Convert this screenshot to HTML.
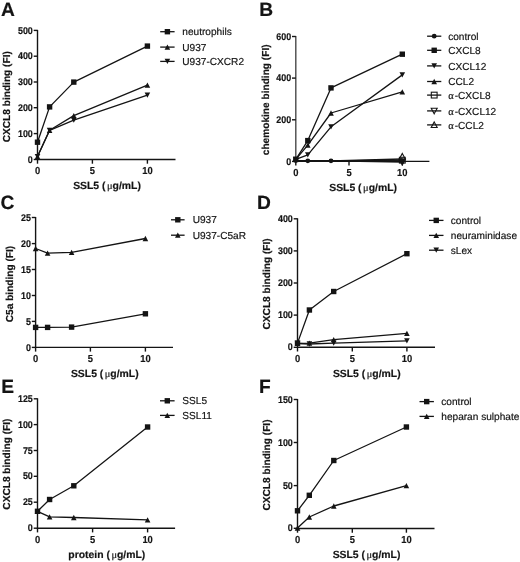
<!DOCTYPE html>
<html><head><meta charset="utf-8"><title>figure</title>
<style>
html,body{margin:0;padding:0;background:#fff;}
body{width:520px;height:562px;overflow:hidden;}
svg{display:block;will-change:transform;}
text{text-rendering:geometricPrecision;font-family:"Liberation Sans",sans-serif;fill:#141414;stroke:#141414;stroke-width:0.18px;}
</style></head><body>
<svg width="520" height="562" viewBox="0 0 520 562">
<rect width="520" height="562" fill="#fff"/>
<text x="1" y="15.6" font-size="19.2" font-weight="bold" text-anchor="start">A</text>
<line x1="37.5" y1="29.9" x2="37.5" y2="160.1" stroke="#141414" stroke-width="1.4"/>
<line x1="33.7" y1="30.4" x2="37.5" y2="30.4" stroke="#141414" stroke-width="1.4"/>
<text x="0" y="0" font-size="9.7" font-weight="bold" text-anchor="end" transform="translate(32.8,33.55) scale(0.92,1)">500</text>
<line x1="33.7" y1="56.2" x2="37.5" y2="56.2" stroke="#141414" stroke-width="1.4"/>
<text x="0" y="0" font-size="9.7" font-weight="bold" text-anchor="end" transform="translate(32.8,59.35) scale(0.92,1)">400</text>
<line x1="33.7" y1="82" x2="37.5" y2="82" stroke="#141414" stroke-width="1.4"/>
<text x="0" y="0" font-size="9.7" font-weight="bold" text-anchor="end" transform="translate(32.8,85.15) scale(0.92,1)">300</text>
<line x1="33.7" y1="107.7" x2="37.5" y2="107.7" stroke="#141414" stroke-width="1.4"/>
<text x="0" y="0" font-size="9.7" font-weight="bold" text-anchor="end" transform="translate(32.8,110.85) scale(0.92,1)">200</text>
<line x1="33.7" y1="133.6" x2="37.5" y2="133.6" stroke="#141414" stroke-width="1.4"/>
<text x="0" y="0" font-size="9.7" font-weight="bold" text-anchor="end" transform="translate(32.8,136.75) scale(0.92,1)">100</text>
<line x1="33.7" y1="159.5" x2="37.5" y2="159.5" stroke="#141414" stroke-width="1.4"/>
<text x="0" y="0" font-size="9.7" font-weight="bold" text-anchor="end" transform="translate(32.8,162.65) scale(0.92,1)">0</text>
<line x1="36.9" y1="159.5" x2="175.5" y2="159.5" stroke="#141414" stroke-width="1.4"/>
<line x1="37.5" y1="159.5" x2="37.5" y2="163.7" stroke="#141414" stroke-width="1.4"/>
<text x="0" y="0" font-size="10.2" font-weight="bold" text-anchor="middle" transform="translate(37.5,173.9) scale(0.92,1)">0</text>
<line x1="92.4" y1="159.5" x2="92.4" y2="163.7" stroke="#141414" stroke-width="1.4"/>
<text x="0" y="0" font-size="10.2" font-weight="bold" text-anchor="middle" transform="translate(92.4,173.9) scale(0.92,1)">5</text>
<line x1="147.4" y1="159.5" x2="147.4" y2="163.7" stroke="#141414" stroke-width="1.4"/>
<text x="0" y="0" font-size="10.2" font-weight="bold" text-anchor="middle" transform="translate(147.4,173.9) scale(0.92,1)">10</text>
<text x="107" y="188.8" font-size="10.4" font-weight="bold" text-anchor="middle">SSL5 (<tspan font-family="Liberation Serif" font-weight="normal" dx="1.5">&#956;</tspan>g/mL)</text>
<text x="0" y="0" font-size="10.15" font-weight="bold" text-anchor="middle" transform="translate(10.1,96.7) rotate(-90)">CXCL8 binding (FI)</text>
<polyline points="37.5,142.2 49.6,106.9 73.8,82.1 147.4,46.1" fill="none" stroke="#141414" stroke-width="1.3" stroke-linejoin="round"/>
<polyline points="37.5,156.6 49.6,130.3 73.8,115.6 147.4,85.1" fill="none" stroke="#141414" stroke-width="1.3" stroke-linejoin="round"/>
<polyline points="37.5,156.6 49.6,130.3 73.8,120.2 147.4,95.2" fill="none" stroke="#141414" stroke-width="1.3" stroke-linejoin="round"/>
<rect x="34.8" y="139.5" width="5.4" height="5.4" fill="#141414"/>
<rect x="46.9" y="104.2" width="5.4" height="5.4" fill="#141414"/>
<rect x="71.1" y="79.4" width="5.4" height="5.4" fill="#141414"/>
<rect x="144.7" y="43.4" width="5.4" height="5.4" fill="#141414"/>
<polygon points="37.5,153.95 40.3,159.25 34.7,159.25" fill="#141414"/>
<polygon points="49.6,127.65 52.4,132.95 46.8,132.95" fill="#141414"/>
<polygon points="73.8,112.95 76.6,118.25 71,118.25" fill="#141414"/>
<polygon points="147.4,82.45 150.2,87.75 144.6,87.75" fill="#141414"/>
<polygon points="37.5,159.25 40.3,153.95 34.7,153.95" fill="#141414"/>
<polygon points="49.6,132.95 52.4,127.65 46.8,127.65" fill="#141414"/>
<polygon points="73.8,122.85 76.6,117.55 71,117.55" fill="#141414"/>
<polygon points="147.4,97.85 150.2,92.55 144.6,92.55" fill="#141414"/>
<line x1="160.2" y1="31.7" x2="174.6" y2="31.7" stroke="#141414" stroke-width="1.3"/>
<rect x="164.7" y="29" width="5.4" height="5.4" fill="#141414"/>
<text x="182.3" y="35.3" font-size="10.1" font-weight="normal" text-anchor="start" stroke-width="0.3">neutrophils</text>
<line x1="160.2" y1="47.1" x2="174.6" y2="47.1" stroke="#141414" stroke-width="1.3"/>
<polygon points="167.4,44.45 170.2,49.75 164.6,49.75" fill="#141414"/>
<text x="182.3" y="50.7" font-size="10.1" font-weight="normal" text-anchor="start" stroke-width="0.3">U937</text>
<line x1="160.2" y1="61.4" x2="174.6" y2="61.4" stroke="#141414" stroke-width="1.3"/>
<polygon points="167.4,64.05 170.2,58.75 164.6,58.75" fill="#141414"/>
<text x="182.3" y="65" font-size="10.1" font-weight="normal" text-anchor="start" stroke-width="0.3">U937-CXCR2</text>
<text x="259.2" y="15.6" font-size="19.2" font-weight="bold" text-anchor="start">B</text>
<line x1="295.8" y1="36" x2="295.8" y2="162" stroke="#4a4a4a" stroke-width="1.4"/>
<line x1="292" y1="36.5" x2="295.8" y2="36.5" stroke="#141414" stroke-width="1.4"/>
<text x="0" y="0" font-size="9.7" font-weight="bold" text-anchor="end" transform="translate(291.1,39.65) scale(0.92,1)">600</text>
<line x1="292" y1="78.1" x2="295.8" y2="78.1" stroke="#141414" stroke-width="1.4"/>
<text x="0" y="0" font-size="9.7" font-weight="bold" text-anchor="end" transform="translate(291.1,81.25) scale(0.92,1)">400</text>
<line x1="292" y1="119.8" x2="295.8" y2="119.8" stroke="#141414" stroke-width="1.4"/>
<text x="0" y="0" font-size="9.7" font-weight="bold" text-anchor="end" transform="translate(291.1,122.95) scale(0.92,1)">200</text>
<line x1="292" y1="161.4" x2="295.8" y2="161.4" stroke="#141414" stroke-width="1.4"/>
<text x="0" y="0" font-size="9.7" font-weight="bold" text-anchor="end" transform="translate(291.1,164.55) scale(0.92,1)">0</text>
<line x1="295.2" y1="161.4" x2="429.4" y2="161.4" stroke="#141414" stroke-width="1.4"/>
<line x1="295.8" y1="161.4" x2="295.8" y2="165.6" stroke="#141414" stroke-width="1.4"/>
<text x="0" y="0" font-size="10.2" font-weight="bold" text-anchor="middle" transform="translate(295.8,175.8) scale(0.92,1)">0</text>
<line x1="349" y1="161.4" x2="349" y2="165.6" stroke="#141414" stroke-width="1.4"/>
<text x="0" y="0" font-size="10.2" font-weight="bold" text-anchor="middle" transform="translate(349,175.8) scale(0.92,1)">5</text>
<line x1="402.3" y1="161.4" x2="402.3" y2="165.6" stroke="#141414" stroke-width="1.4"/>
<text x="0" y="0" font-size="10.2" font-weight="bold" text-anchor="middle" transform="translate(402.3,175.8) scale(0.92,1)">10</text>
<text x="363.1" y="190.7" font-size="10.4" font-weight="bold" text-anchor="middle">SSL5 (<tspan font-family="Liberation Serif" font-weight="normal" dx="1.5">&#956;</tspan>g/mL)</text>
<text x="0" y="0" font-size="10.15" font-weight="bold" text-anchor="middle" transform="translate(269.2,99.8) rotate(-90)">chemokine binding (FI)</text>
<polyline points="295.8,160.6 307.8,160.8 331,160.8 402.3,161" fill="none" stroke="#141414" stroke-width="1.3" stroke-linejoin="round"/>
<polyline points="295.8,159.4 307.8,140.6 331,87.9 402.3,54.2" fill="none" stroke="#141414" stroke-width="1.3" stroke-linejoin="round"/>
<polyline points="295.8,159.4 307.8,154.8 331,126.8 402.3,74.9" fill="none" stroke="#141414" stroke-width="1.3" stroke-linejoin="round"/>
<polyline points="295.8,159.4 307.8,145.2 331,113 402.3,91.8" fill="none" stroke="#141414" stroke-width="1.3" stroke-linejoin="round"/>
<polyline points="295.8,160.6 307.8,160.8 331,160.8 402.3,160.2" fill="none" stroke="#141414" stroke-width="1.3" stroke-linejoin="round"/>
<polyline points="295.8,160.6 307.8,160.8 331,160.8 402.3,162" fill="none" stroke="#141414" stroke-width="1.3" stroke-linejoin="round"/>
<polyline points="295.8,160.6 307.8,160.8 331,160.8 402.3,159" fill="none" stroke="#141414" stroke-width="1.3" stroke-linejoin="round"/>
<rect x="399.4" y="157.3" width="5.8" height="5.8" fill="none" stroke="#141414" stroke-width="1.1"/>
<polygon points="402.3,164.95 405.3,159.35 399.3,159.35" fill="none" stroke="#141414" stroke-width="1.1" stroke-linejoin="miter"/>
<polygon points="402.3,153.45 405.3,159.05 399.3,159.05" fill="none" stroke="#141414" stroke-width="1.1" stroke-linejoin="miter"/>
<rect x="293.1" y="156.7" width="5.4" height="5.4" fill="#141414"/>
<rect x="305.1" y="137.9" width="5.4" height="5.4" fill="#141414"/>
<rect x="328.3" y="85.2" width="5.4" height="5.4" fill="#141414"/>
<rect x="399.6" y="51.5" width="5.4" height="5.4" fill="#141414"/>
<polygon points="295.8,162.05 298.6,156.75 293,156.75" fill="#141414"/>
<polygon points="307.8,157.45 310.6,152.15 305,152.15" fill="#141414"/>
<polygon points="331,129.45 333.8,124.15 328.2,124.15" fill="#141414"/>
<polygon points="402.3,77.55 405.1,72.25 399.5,72.25" fill="#141414"/>
<polygon points="295.8,156.75 298.6,162.05 293,162.05" fill="#141414"/>
<polygon points="307.8,142.55 310.6,147.85 305,147.85" fill="#141414"/>
<polygon points="331,110.35 333.8,115.65 328.2,115.65" fill="#141414"/>
<polygon points="402.3,89.15 405.1,94.45 399.5,94.45" fill="#141414"/>
<circle cx="295.8" cy="160.6" r="2.4" fill="#141414"/>
<circle cx="307.8" cy="160.8" r="2.4" fill="#141414"/>
<circle cx="331" cy="160.8" r="2.4" fill="#141414"/>
<circle cx="402.3" cy="161" r="2.4" fill="#141414"/>
<line x1="427.1" y1="36.2" x2="441.3" y2="36.2" stroke="#141414" stroke-width="1.3"/>
<circle cx="434.2" cy="36.2" r="2.4" fill="#141414"/>
<text x="448.2" y="39.8" font-size="10.1" font-weight="normal" text-anchor="start" stroke-width="0.3">control</text>
<line x1="427.1" y1="50.3" x2="441.3" y2="50.3" stroke="#141414" stroke-width="1.3"/>
<rect x="431.5" y="47.6" width="5.4" height="5.4" fill="#141414"/>
<text x="448.2" y="53.9" font-size="10.1" font-weight="normal" text-anchor="start" stroke-width="0.3">CXCL8</text>
<line x1="427.1" y1="65.9" x2="441.3" y2="65.9" stroke="#141414" stroke-width="1.3"/>
<polygon points="434.2,68.55 437,63.25 431.4,63.25" fill="#141414"/>
<text x="448.2" y="69.5" font-size="10.1" font-weight="normal" text-anchor="start" stroke-width="0.3">CXCL12</text>
<line x1="427.1" y1="81.5" x2="441.3" y2="81.5" stroke="#141414" stroke-width="1.3"/>
<polygon points="434.2,78.85 437,84.15 431.4,84.15" fill="#141414"/>
<text x="448.2" y="85.1" font-size="10.1" font-weight="normal" text-anchor="start" stroke-width="0.3">CCL2</text>
<line x1="427.1" y1="95.1" x2="441.3" y2="95.1" stroke="#141414" stroke-width="1.3"/>
<rect x="431.3" y="92.2" width="5.8" height="5.8" fill="none" stroke="#141414" stroke-width="1.1"/>
<text x="448.2" y="98.7" font-size="10.1" font-weight="normal" text-anchor="start" stroke-width="0.3"><tspan font-family="Liberation Serif" font-size="10.5">&#945;</tspan><tspan dx="1.0">-CXCL8</tspan></text>
<line x1="427.1" y1="110.9" x2="441.3" y2="110.9" stroke="#141414" stroke-width="1.3"/>
<polygon points="434.2,113.85 437.2,108.25 431.2,108.25" fill="none" stroke="#141414" stroke-width="1.1" stroke-linejoin="miter"/>
<text x="448.2" y="114.5" font-size="10.1" font-weight="normal" text-anchor="start" stroke-width="0.3"><tspan font-family="Liberation Serif" font-size="10.5">&#945;</tspan><tspan dx="1.0">-CXCL12</tspan></text>
<line x1="427.1" y1="124.9" x2="441.3" y2="124.9" stroke="#141414" stroke-width="1.3"/>
<polygon points="434.2,121.95 437.2,127.55 431.2,127.55" fill="none" stroke="#141414" stroke-width="1.1" stroke-linejoin="miter"/>
<text x="448.2" y="128.5" font-size="10.1" font-weight="normal" text-anchor="start" stroke-width="0.3"><tspan font-family="Liberation Serif" font-size="10.5">&#945;</tspan><tspan dx="1.0">-CCL2</tspan></text>
<text x="0.6" y="208.9" font-size="19.2" font-weight="bold" text-anchor="start">C</text>
<line x1="35.6" y1="217" x2="35.6" y2="348" stroke="#141414" stroke-width="1.4"/>
<line x1="31.8" y1="217.5" x2="35.6" y2="217.5" stroke="#141414" stroke-width="1.4"/>
<text x="0" y="0" font-size="9.7" font-weight="bold" text-anchor="end" transform="translate(30.9,220.65) scale(0.92,1)">25</text>
<line x1="31.8" y1="243.6" x2="35.6" y2="243.6" stroke="#141414" stroke-width="1.4"/>
<text x="0" y="0" font-size="9.7" font-weight="bold" text-anchor="end" transform="translate(30.9,246.75) scale(0.92,1)">20</text>
<line x1="31.8" y1="269.5" x2="35.6" y2="269.5" stroke="#141414" stroke-width="1.4"/>
<text x="0" y="0" font-size="9.7" font-weight="bold" text-anchor="end" transform="translate(30.9,272.65) scale(0.92,1)">15</text>
<line x1="31.8" y1="295.5" x2="35.6" y2="295.5" stroke="#141414" stroke-width="1.4"/>
<text x="0" y="0" font-size="9.7" font-weight="bold" text-anchor="end" transform="translate(30.9,298.65) scale(0.92,1)">10</text>
<line x1="31.8" y1="321.4" x2="35.6" y2="321.4" stroke="#141414" stroke-width="1.4"/>
<text x="0" y="0" font-size="9.7" font-weight="bold" text-anchor="end" transform="translate(30.9,324.55) scale(0.92,1)">5</text>
<line x1="31.8" y1="347.4" x2="35.6" y2="347.4" stroke="#141414" stroke-width="1.4"/>
<text x="0" y="0" font-size="9.7" font-weight="bold" text-anchor="end" transform="translate(30.9,350.55) scale(0.92,1)">0</text>
<line x1="35" y1="347.4" x2="173" y2="347.4" stroke="#141414" stroke-width="1.4"/>
<line x1="35.6" y1="347.4" x2="35.6" y2="351.6" stroke="#141414" stroke-width="1.4"/>
<text x="0" y="0" font-size="10.2" font-weight="bold" text-anchor="middle" transform="translate(35.6,361.8) scale(0.92,1)">0</text>
<line x1="90.4" y1="347.4" x2="90.4" y2="351.6" stroke="#141414" stroke-width="1.4"/>
<text x="0" y="0" font-size="10.2" font-weight="bold" text-anchor="middle" transform="translate(90.4,361.8) scale(0.92,1)">5</text>
<line x1="145.4" y1="347.4" x2="145.4" y2="351.6" stroke="#141414" stroke-width="1.4"/>
<text x="0" y="0" font-size="10.2" font-weight="bold" text-anchor="middle" transform="translate(145.4,361.8) scale(0.92,1)">10</text>
<text x="104.8" y="376.7" font-size="10.4" font-weight="bold" text-anchor="middle">SSL5 (<tspan font-family="Liberation Serif" font-weight="normal" dx="1.5">&#956;</tspan>g/mL)</text>
<text x="0" y="0" font-size="10.15" font-weight="bold" text-anchor="middle" transform="translate(13.4,284) rotate(-90)">C5a binding (FI)</text>
<polyline points="35.6,327.4 47.6,327.4 71.6,327.1 145.4,313.8" fill="none" stroke="#141414" stroke-width="1.3" stroke-linejoin="round"/>
<polyline points="35.6,248.5 47.6,253.1 71.6,252.3 145.4,238.5" fill="none" stroke="#141414" stroke-width="1.3" stroke-linejoin="round"/>
<rect x="32.9" y="324.7" width="5.4" height="5.4" fill="#141414"/>
<rect x="44.9" y="324.7" width="5.4" height="5.4" fill="#141414"/>
<rect x="68.9" y="324.4" width="5.4" height="5.4" fill="#141414"/>
<rect x="142.7" y="311.1" width="5.4" height="5.4" fill="#141414"/>
<polygon points="35.6,245.85 38.4,251.15 32.8,251.15" fill="#141414"/>
<polygon points="47.6,250.45 50.4,255.75 44.8,255.75" fill="#141414"/>
<polygon points="71.6,249.65 74.4,254.95 68.8,254.95" fill="#141414"/>
<polygon points="145.4,235.85 148.2,241.15 142.6,241.15" fill="#141414"/>
<line x1="171" y1="219.8" x2="184.6" y2="219.8" stroke="#141414" stroke-width="1.3"/>
<rect x="175.1" y="217.1" width="5.4" height="5.4" fill="#141414"/>
<text x="192.7" y="223.4" font-size="10.1" font-weight="normal" text-anchor="start" stroke-width="0.3">U937</text>
<line x1="171" y1="235.2" x2="184.6" y2="235.2" stroke="#141414" stroke-width="1.3"/>
<polygon points="177.8,232.55 180.6,237.85 175,237.85" fill="#141414"/>
<text x="192.7" y="238.8" font-size="10.1" font-weight="normal" text-anchor="start" stroke-width="0.3">U937-C5aR</text>
<text x="257" y="208.9" font-size="19.2" font-weight="bold" text-anchor="start">D</text>
<line x1="297.5" y1="218.3" x2="297.5" y2="347.9" stroke="#141414" stroke-width="1.4"/>
<line x1="293.7" y1="218.8" x2="297.5" y2="218.8" stroke="#141414" stroke-width="1.4"/>
<text x="0" y="0" font-size="9.7" font-weight="bold" text-anchor="end" transform="translate(292.8,221.95) scale(0.92,1)">400</text>
<line x1="293.7" y1="250.9" x2="297.5" y2="250.9" stroke="#141414" stroke-width="1.4"/>
<text x="0" y="0" font-size="9.7" font-weight="bold" text-anchor="end" transform="translate(292.8,254.05) scale(0.92,1)">300</text>
<line x1="293.7" y1="283" x2="297.5" y2="283" stroke="#141414" stroke-width="1.4"/>
<text x="0" y="0" font-size="9.7" font-weight="bold" text-anchor="end" transform="translate(292.8,286.15) scale(0.92,1)">200</text>
<line x1="293.7" y1="315.1" x2="297.5" y2="315.1" stroke="#141414" stroke-width="1.4"/>
<text x="0" y="0" font-size="9.7" font-weight="bold" text-anchor="end" transform="translate(292.8,318.25) scale(0.92,1)">100</text>
<line x1="293.7" y1="347.3" x2="297.5" y2="347.3" stroke="#141414" stroke-width="1.4"/>
<text x="0" y="0" font-size="9.7" font-weight="bold" text-anchor="end" transform="translate(292.8,350.45) scale(0.92,1)">0</text>
<line x1="296.9" y1="347.3" x2="435" y2="347.3" stroke="#141414" stroke-width="1.4"/>
<line x1="297.5" y1="347.3" x2="297.5" y2="351.5" stroke="#141414" stroke-width="1.4"/>
<text x="0" y="0" font-size="10.2" font-weight="bold" text-anchor="middle" transform="translate(297.5,361.7) scale(0.92,1)">0</text>
<line x1="352.3" y1="347.3" x2="352.3" y2="351.5" stroke="#141414" stroke-width="1.4"/>
<text x="0" y="0" font-size="10.2" font-weight="bold" text-anchor="middle" transform="translate(352.3,361.7) scale(0.92,1)">5</text>
<line x1="406.9" y1="347.3" x2="406.9" y2="351.5" stroke="#141414" stroke-width="1.4"/>
<text x="0" y="0" font-size="10.2" font-weight="bold" text-anchor="middle" transform="translate(406.9,361.7) scale(0.92,1)">10</text>
<text x="366.75" y="376.6" font-size="10.4" font-weight="bold" text-anchor="middle">SSL5 (<tspan font-family="Liberation Serif" font-weight="normal" dx="1.5">&#956;</tspan>g/mL)</text>
<text x="0" y="0" font-size="10.15" font-weight="bold" text-anchor="middle" transform="translate(269.8,283.9) rotate(-90)">CXCL8 binding (FI)</text>
<polyline points="297.5,343.1 309.4,310 333.7,291.5 406.9,253.7" fill="none" stroke="#141414" stroke-width="1.3" stroke-linejoin="round"/>
<polyline points="297.5,343.3 309.4,343.2 333.7,339.6 406.9,333.4" fill="none" stroke="#141414" stroke-width="1.3" stroke-linejoin="round"/>
<polyline points="297.5,343.5 309.4,344 333.7,343.1 406.9,340.9" fill="none" stroke="#141414" stroke-width="1.3" stroke-linejoin="round"/>
<rect x="294.8" y="340.4" width="5.4" height="5.4" fill="#141414"/>
<rect x="306.7" y="307.3" width="5.4" height="5.4" fill="#141414"/>
<rect x="331" y="288.8" width="5.4" height="5.4" fill="#141414"/>
<rect x="404.2" y="251" width="5.4" height="5.4" fill="#141414"/>
<polygon points="297.5,340.65 300.3,345.95 294.7,345.95" fill="#141414"/>
<polygon points="309.4,340.55 312.2,345.85 306.6,345.85" fill="#141414"/>
<polygon points="333.7,336.95 336.5,342.25 330.9,342.25" fill="#141414"/>
<polygon points="406.9,330.75 409.7,336.05 404.1,336.05" fill="#141414"/>
<polygon points="297.5,346.15 300.3,340.85 294.7,340.85" fill="#141414"/>
<polygon points="309.4,346.65 312.2,341.35 306.6,341.35" fill="#141414"/>
<polygon points="333.7,345.75 336.5,340.45 330.9,340.45" fill="#141414"/>
<polygon points="406.9,343.55 409.7,338.25 404.1,338.25" fill="#141414"/>
<line x1="429" y1="220.4" x2="443.5" y2="220.4" stroke="#141414" stroke-width="1.3"/>
<rect x="433.55" y="217.7" width="5.4" height="5.4" fill="#141414"/>
<text x="450.8" y="224" font-size="10.1" font-weight="normal" text-anchor="start" stroke-width="0.3">control</text>
<line x1="429" y1="235.4" x2="443.5" y2="235.4" stroke="#141414" stroke-width="1.3"/>
<polygon points="436.25,232.75 439.05,238.05 433.45,238.05" fill="#141414"/>
<text x="450.8" y="239" font-size="10.1" font-weight="normal" text-anchor="start" stroke-width="0.3">neuraminidase</text>
<line x1="429" y1="250.2" x2="443.5" y2="250.2" stroke="#141414" stroke-width="1.3"/>
<polygon points="436.25,252.85 439.05,247.55 433.45,247.55" fill="#141414"/>
<text x="450.8" y="253.8" font-size="10.1" font-weight="normal" text-anchor="start" stroke-width="0.3">sLex</text>
<text x="1.3" y="392.9" font-size="19.2" font-weight="bold" text-anchor="start">E</text>
<line x1="37.5" y1="398.3" x2="37.5" y2="528.8" stroke="#141414" stroke-width="1.4"/>
<line x1="33.7" y1="398.8" x2="37.5" y2="398.8" stroke="#141414" stroke-width="1.4"/>
<text x="0" y="0" font-size="9.7" font-weight="bold" text-anchor="end" transform="translate(32.8,401.95) scale(0.92,1)">125</text>
<line x1="33.7" y1="424.6" x2="37.5" y2="424.6" stroke="#141414" stroke-width="1.4"/>
<text x="0" y="0" font-size="9.7" font-weight="bold" text-anchor="end" transform="translate(32.8,427.75) scale(0.92,1)">100</text>
<line x1="33.7" y1="450.5" x2="37.5" y2="450.5" stroke="#141414" stroke-width="1.4"/>
<text x="0" y="0" font-size="9.7" font-weight="bold" text-anchor="end" transform="translate(32.8,453.65) scale(0.92,1)">75</text>
<line x1="33.7" y1="476.3" x2="37.5" y2="476.3" stroke="#141414" stroke-width="1.4"/>
<text x="0" y="0" font-size="9.7" font-weight="bold" text-anchor="end" transform="translate(32.8,479.45) scale(0.92,1)">50</text>
<line x1="33.7" y1="502.2" x2="37.5" y2="502.2" stroke="#141414" stroke-width="1.4"/>
<text x="0" y="0" font-size="9.7" font-weight="bold" text-anchor="end" transform="translate(32.8,505.35) scale(0.92,1)">25</text>
<line x1="33.7" y1="528.2" x2="37.5" y2="528.2" stroke="#141414" stroke-width="1.4"/>
<text x="0" y="0" font-size="9.7" font-weight="bold" text-anchor="end" transform="translate(32.8,531.35) scale(0.92,1)">0</text>
<line x1="36.9" y1="528.2" x2="175.1" y2="528.2" stroke="#141414" stroke-width="1.4"/>
<line x1="37.5" y1="528.2" x2="37.5" y2="532.4" stroke="#141414" stroke-width="1.4"/>
<text x="0" y="0" font-size="10.2" font-weight="bold" text-anchor="middle" transform="translate(37.5,542.6) scale(0.92,1)">0</text>
<line x1="92.6" y1="528.2" x2="92.6" y2="532.4" stroke="#141414" stroke-width="1.4"/>
<text x="0" y="0" font-size="10.2" font-weight="bold" text-anchor="middle" transform="translate(92.6,542.6) scale(0.92,1)">5</text>
<line x1="147.6" y1="528.2" x2="147.6" y2="532.4" stroke="#141414" stroke-width="1.4"/>
<text x="0" y="0" font-size="10.2" font-weight="bold" text-anchor="middle" transform="translate(147.6,542.6) scale(0.92,1)">10</text>
<text x="106.8" y="557.5" font-size="10.4" font-weight="bold" text-anchor="middle">protein (<tspan font-family="Liberation Serif" font-weight="normal" dx="1.5">&#956;</tspan>g/mL)</text>
<text x="0" y="0" font-size="10.15" font-weight="bold" text-anchor="middle" transform="translate(10.1,464.1) rotate(-90)">CXCL8 binding (FI)</text>
<polyline points="37.5,511.3 49.6,499.5 73.8,485.8 147.6,427" fill="none" stroke="#141414" stroke-width="1.3" stroke-linejoin="round"/>
<polyline points="37.5,511.3 49.6,516.8 73.8,517.5 147.6,519.9" fill="none" stroke="#141414" stroke-width="1.3" stroke-linejoin="round"/>
<rect x="34.8" y="508.6" width="5.4" height="5.4" fill="#141414"/>
<rect x="46.9" y="496.8" width="5.4" height="5.4" fill="#141414"/>
<rect x="71.1" y="483.1" width="5.4" height="5.4" fill="#141414"/>
<rect x="144.9" y="424.3" width="5.4" height="5.4" fill="#141414"/>
<polygon points="37.5,508.65 40.3,513.95 34.7,513.95" fill="#141414"/>
<polygon points="49.6,514.15 52.4,519.45 46.8,519.45" fill="#141414"/>
<polygon points="73.8,514.85 76.6,520.15 71,520.15" fill="#141414"/>
<polygon points="147.6,517.25 150.4,522.55 144.8,522.55" fill="#141414"/>
<line x1="160" y1="400.8" x2="174.6" y2="400.8" stroke="#141414" stroke-width="1.3"/>
<rect x="164.6" y="398.1" width="5.4" height="5.4" fill="#141414"/>
<text x="182.3" y="404.4" font-size="10.1" font-weight="normal" text-anchor="start" stroke-width="0.3">SSL5</text>
<line x1="160" y1="415.4" x2="174.6" y2="415.4" stroke="#141414" stroke-width="1.3"/>
<polygon points="167.3,412.75 170.1,418.05 164.5,418.05" fill="#141414"/>
<text x="182.3" y="419" font-size="10.1" font-weight="normal" text-anchor="start" stroke-width="0.3">SSL11</text>
<text x="259" y="392.9" font-size="19.2" font-weight="bold" text-anchor="start">F</text>
<line x1="297.5" y1="399" x2="297.5" y2="529.1" stroke="#141414" stroke-width="1.4"/>
<line x1="293.7" y1="399.5" x2="297.5" y2="399.5" stroke="#141414" stroke-width="1.4"/>
<text x="0" y="0" font-size="9.7" font-weight="bold" text-anchor="end" transform="translate(292.8,402.65) scale(0.92,1)">150</text>
<line x1="293.7" y1="442.5" x2="297.5" y2="442.5" stroke="#141414" stroke-width="1.4"/>
<text x="0" y="0" font-size="9.7" font-weight="bold" text-anchor="end" transform="translate(292.8,445.65) scale(0.92,1)">100</text>
<line x1="293.7" y1="485.6" x2="297.5" y2="485.6" stroke="#141414" stroke-width="1.4"/>
<text x="0" y="0" font-size="9.7" font-weight="bold" text-anchor="end" transform="translate(292.8,488.75) scale(0.92,1)">50</text>
<line x1="293.7" y1="528.3" x2="297.5" y2="528.3" stroke="#141414" stroke-width="1.4"/>
<text x="0" y="0" font-size="9.7" font-weight="bold" text-anchor="end" transform="translate(292.8,531.45) scale(0.92,1)">0</text>
<line x1="296.9" y1="528.5" x2="434.5" y2="528.5" stroke="#141414" stroke-width="1.4"/>
<line x1="297.5" y1="528.5" x2="297.5" y2="532.7" stroke="#141414" stroke-width="1.4"/>
<text x="0" y="0" font-size="10.2" font-weight="bold" text-anchor="middle" transform="translate(297.5,542.9) scale(0.92,1)">0</text>
<line x1="352.3" y1="528.5" x2="352.3" y2="532.7" stroke="#141414" stroke-width="1.4"/>
<text x="0" y="0" font-size="10.2" font-weight="bold" text-anchor="middle" transform="translate(352.3,542.9) scale(0.92,1)">5</text>
<line x1="406.4" y1="528.5" x2="406.4" y2="532.7" stroke="#141414" stroke-width="1.4"/>
<text x="0" y="0" font-size="10.2" font-weight="bold" text-anchor="middle" transform="translate(406.4,542.9) scale(0.92,1)">10</text>
<text x="366.5" y="557.8" font-size="10.4" font-weight="bold" text-anchor="middle">SSL5 (<tspan font-family="Liberation Serif" font-weight="normal" dx="1.5">&#956;</tspan>g/mL)</text>
<text x="0" y="0" font-size="10.15" font-weight="bold" text-anchor="middle" transform="translate(270,465) rotate(-90)">CXCL8 binding (FI)</text>
<polyline points="297.5,510.8 309.3,495.3 333.8,460.5 406.4,427" fill="none" stroke="#141414" stroke-width="1.3" stroke-linejoin="round"/>
<polyline points="297.5,528 309.3,517 333.8,506 406.4,485.6" fill="none" stroke="#141414" stroke-width="1.3" stroke-linejoin="round"/>
<rect x="294.8" y="508.1" width="5.4" height="5.4" fill="#141414"/>
<rect x="306.6" y="492.6" width="5.4" height="5.4" fill="#141414"/>
<rect x="331.1" y="457.8" width="5.4" height="5.4" fill="#141414"/>
<rect x="403.7" y="424.3" width="5.4" height="5.4" fill="#141414"/>
<polygon points="297.5,525.35 300.3,530.65 294.7,530.65" fill="#141414"/>
<polygon points="309.3,514.35 312.1,519.65 306.5,519.65" fill="#141414"/>
<polygon points="333.8,503.35 336.6,508.65 331,508.65" fill="#141414"/>
<polygon points="406.4,482.95 409.2,488.25 403.6,488.25" fill="#141414"/>
<line x1="419.5" y1="401.6" x2="433.9" y2="401.6" stroke="#141414" stroke-width="1.3"/>
<rect x="424" y="398.9" width="5.4" height="5.4" fill="#141414"/>
<text x="441.3" y="405.2" font-size="10.1" font-weight="normal" text-anchor="start" stroke-width="0.3">control</text>
<line x1="419.5" y1="416.4" x2="433.9" y2="416.4" stroke="#141414" stroke-width="1.3"/>
<polygon points="426.7,413.75 429.5,419.05 423.9,419.05" fill="#141414"/>
<text x="441.3" y="420" font-size="10.1" font-weight="normal" text-anchor="start" stroke-width="0.3">heparan sulphate</text>
</svg>
</body></html>
